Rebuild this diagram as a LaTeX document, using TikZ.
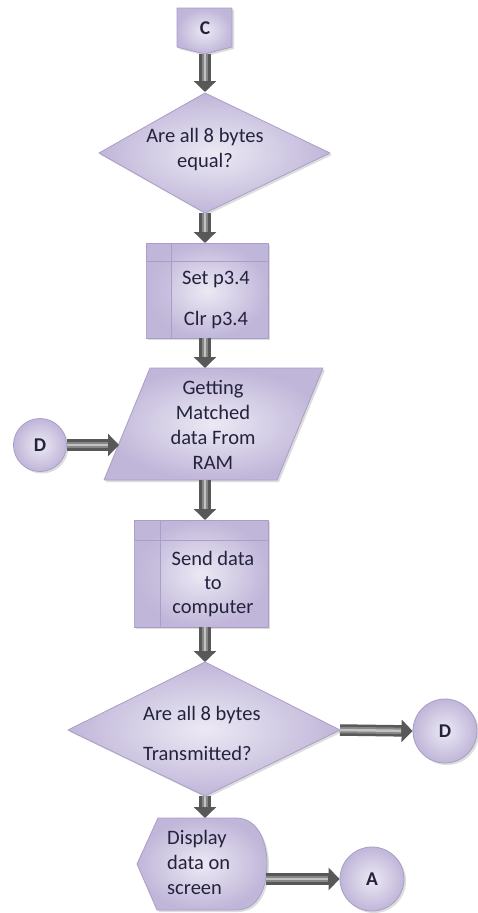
\documentclass[tikz,border=0pt]{standalone}
\usepackage{fontspec}
\setmainfont{Carlito}
\usetikzlibrary{arrows.meta,shadows}
\definecolor{lavdark}{RGB}{192,182,217}
\definecolor{lavlight}{RGB}{236,233,244}
\definecolor{lavedge}{RGB}{170,158,200}
\definecolor{txt}{RGB}{35,35,62}
\definecolor{arrdark}{RGB}{88,88,88}
\definecolor{arrmid}{RGB}{135,135,135}
\definecolor{arrlight}{RGB}{195,195,195}
\tikzset{
  fshape/.style={draw=lavedge, line width=0.8pt, line join=round,
    inner color=lavlight, outer color=lavdark,
    drop shadow={shadow xshift=2pt, shadow yshift=-2pt, opacity=0.22, fill=black!60}},
  innerln/.style={draw=lavedge, line width=0.8pt},
  stripfill/.style={fill=lavdark, opacity=0.45},
  lbl/.style={font=\fontsize{20.5}{25}\selectfont, text=txt, inner sep=0pt, align=center},
  conn/.style={font=\fontsize{19.5}{22}\selectfont\bfseries, text=txt},
  circ/.style={circle, fshape, conn, inner sep=0pt},
  flowarrow/.style={line width=11.5pt, draw=arrdark, -{Triangle[width=22pt,length=11pt]},
    postaction={draw=arrmid, line width=6.5pt, arrows=-, shorten >=11.5pt},
    postaction={draw=arrlight, line width=2.5pt, arrows=-, shorten >=11.5pt}}
}
\begin{document}
\begin{tikzpicture}[x=1pt,y=-1pt]
\fill[white] (0,0) rectangle (478,913);
\useasboundingbox (0,0) rectangle (478,913);

% off-page connector C
\path[fshape] (177,8) -- (232,8) -- (232,47) -- (205,54) -- (177,47) -- cycle;
\node[conn] (c) at (205,28) {C};
\coordinate (c-s) at (205,54);

% decision 1
\path[fshape] (205,93) -- (330,153) -- (205,213) -- (99,153) -- cycle;
\node[lbl] (q1) at (205,150) {Are all 8 bytes\\equal?};
\coordinate (q1-n) at (205,92);
\coordinate (q1-s) at (205,213);

% Set / Clr box
\path[fshape] (146,243) rectangle (268,338);
\fill[stripfill] (146.4,261) rectangle (171,337.6);
\draw[innerln] (171,243) -- (171,338) (146,261) -- (268,261);
\node[lbl] (set) at (216,300) {Set p3.4\\[16pt]Clr p3.4};
\coordinate (set-n) at (205,243);
\coordinate (set-s) at (205,338);

% data from RAM
\path[fshape] (150,368) -- (323,368) -- (277,480) -- (104,480) -- cycle;
\node[lbl] (get) at (213,425) {Getting\\Matched\\data From\\RAM};
\coordinate (get-n) at (205,368);
\coordinate (get-s) at (205,480);
\coordinate (get-w) at (119,445);

% connector D (left)
\node[circ, minimum size=53pt] (d1) at (40,445) {D};

% send box
\path[fshape] (134,520) rectangle (268,627);
\fill[stripfill] (134.4,540) rectangle (160,626.6);
\draw[innerln] (160,520) -- (160,627) (134,540) -- (268,540);
\node[lbl, font=\fontsize{20.5}{24}\selectfont] (send) at (213,584) {Send data\\to\\computer};
\coordinate (send-n) at (205,520);
\coordinate (send-s) at (205,627);

% decision 2
\path[fshape] (205,662) -- (340,730) -- (205,796) -- (68,730) -- cycle;
\node[lbl, align=left, anchor=west] (q2) at (143,733) {Are all 8 bytes\\[15pt]Transmitted?};
\coordinate (q2-n) at (205,662);
\coordinate (q2-e) at (340,730);
\coordinate (q2-s) at (205,796);

% connector D (right)
\node[circ, minimum size=64pt] (d2) at (445,731) {D};

% display
\path[fshape] (158,818) -- (236,818) .. controls (258,818) and (267,842) .. (267,864)
  .. controls (267,888) and (258,910) .. (236,910) -- (157,910) -- (137,864) -- cycle;
\node[lbl, align=left, anchor=west] (disp) at (167,862) {Display\\data on\\screen};
\coordinate (disp-n) at (205,818);
\coordinate (disp-e) at (266,879);

% connector A
\node[circ, minimum size=64pt] (a) at (372,879) {A};

% arrows
\draw[flowarrow] (c-s) -- (q1-n);
\draw[flowarrow] (q1-s) -- (set-n);
\draw[flowarrow] (set-s) -- (get-n);
\draw[flowarrow] (d1.east) -- (get-w);
\draw[flowarrow] (get-s) -- (send-n);
\draw[flowarrow] (send-s) -- (q2-n);
\draw[flowarrow] (q2-e) -- (d2.west);
\draw[flowarrow] (q2-s) -- (disp-n);
\draw[flowarrow] (disp-e) -- (a.west);
\end{tikzpicture}
\end{document}
